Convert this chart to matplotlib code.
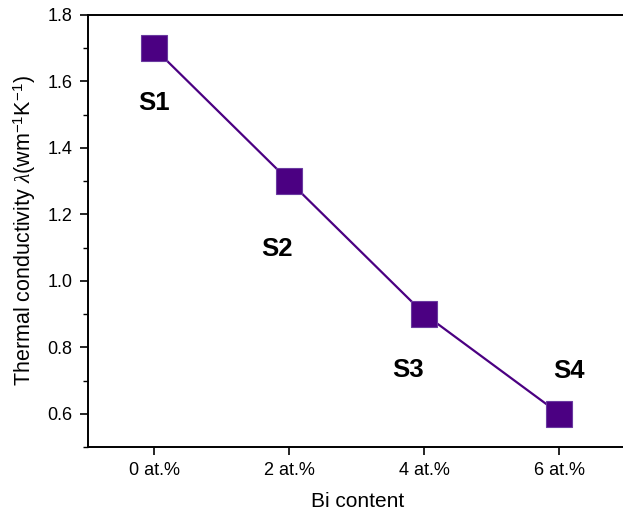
import matplotlib
matplotlib.use('Agg')
import matplotlib.pyplot as plt
from matplotlib.ticker import MultipleLocator

plt.rcParams['font.family'] = ['Liberation Sans', 'DejaVu Sans']
plt.rcParams['mathtext.fontset'] = 'custom'
plt.rcParams['mathtext.rm'] = 'Liberation Sans'
plt.rcParams['mathtext.it'] = 'Liberation Serif:italic'

# Bi doping levels and measured thermal conductivity
bi_labels = ['0 at.%', '2 at.%', '4 at.%', '6 at.%']
kappa = [1.7, 1.3, 0.9, 0.6]
samples = ['S1', 'S2', 'S3', 'S4']
sample_pos = [(0.0, 1.535), (0.91, 1.097), (1.88, 0.733), (3.07, 0.728)]

fig = plt.figure(figsize=(6.23, 5.16), dpi=100)
ax = fig.add_axes([88/623, 1 - 447/516, (627 - 88)/623, (447 - 15)/516])

x = range(len(kappa))
ax.plot(x, kappa, color='#4B0082', lw=1.6, marker='s', markersize=18.5,
        markerfacecolor='#4B0082', markeredgecolor='#6a3aa0', markeredgewidth=0.8)

for name, (sx, sy) in zip(samples, sample_pos):
    ax.text(sx, sy, name, fontsize=18.5, fontweight='bold', ha='center', va='center')

ax.set_xlim(-0.49, 3.5)
ax.set_ylim(0.5, 1.8)
ax.set_xticks(list(x))
ax.set_xticklabels(bi_labels)
ax.yaxis.set_minor_locator(MultipleLocator(0.1))
ax.set_yticks([0.6, 0.8, 1.0, 1.2, 1.4, 1.6, 1.8])
ax.yaxis.set_major_formatter(plt.FormatStrFormatter('%.1f'))

ax.tick_params(axis='both', which='major', direction='out', length=6, width=1.2,
               labelsize=13, pad=5)
ax.tick_params(axis='y', which='minor', direction='out', length=3.5, width=1.0)
for sp in ax.spines.values():
    sp.set_linewidth(1.4)

ax.set_xlabel('Bi content', fontsize=15, labelpad=9)
ax.set_ylabel(r'Thermal conductivity $\lambda$(wm$^{-1}$K$^{-1}$)', fontsize=15.5, labelpad=7)

fig.savefig('out.png', dpi=100)
